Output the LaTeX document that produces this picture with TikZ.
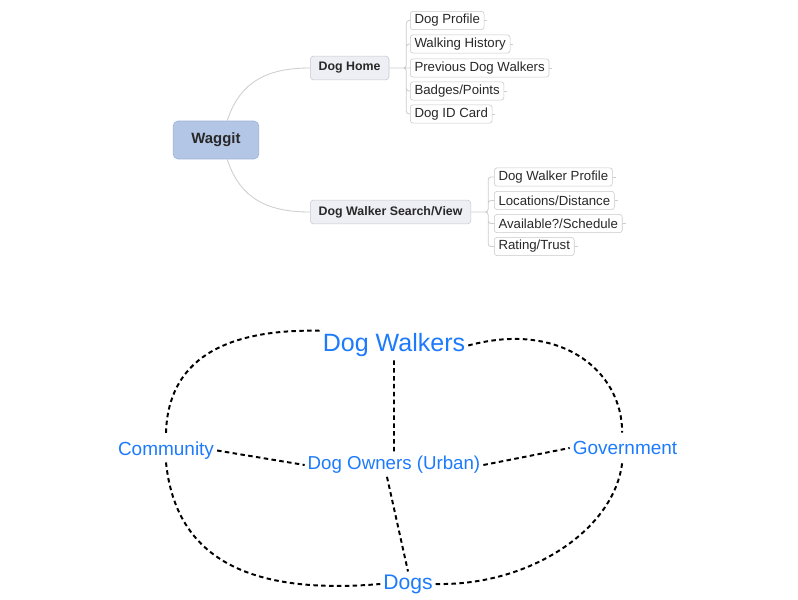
\documentclass[tikz,border=0pt]{standalone}
\usepackage{fontspec}
\setmainfont{Liberation Sans}
\definecolor{waggitblue}{RGB}{179,198,230}
\definecolor{waggitedge}{RGB}{156,178,214}
\definecolor{topicfill}{RGB}{238,238,245}
\definecolor{boxedge}{RGB}{200,200,206}
\definecolor{branchgray}{RGB}{205,205,205}
\definecolor{textgray}{RGB}{40,40,40}
\definecolor{labelblue}{RGB}{28,122,252}

\begin{document}
\begin{tikzpicture}[x=0.025cm,y=-0.025cm,
    central/.style={draw=waggitedge,fill=waggitblue,rounded corners=3.5pt,minimum width=61pt,minimum height=27pt,text=textgray,font=\fontsize{10.6}{12}\selectfont\bfseries},
    topic/.style={draw=boxedge,fill=topicfill,rounded corners=2.5pt,inner xsep=6pt,minimum height=17pt,anchor=west,text=textgray,font=\fontsize{8.8}{10}\selectfont\bfseries},
    subtopic/.style={draw=boxedge,fill=white,rounded corners=2pt,inner xsep=3pt,inner ysep=0pt,minimum height=13pt,anchor=west,text=textgray,font=\fontsize{9.4}{11}\selectfont},
    branch/.style={draw=branchgray,line width=0.6pt},
    actor/.style={text=labelblue,inner sep=2pt},
    link/.style={draw=black,line width=1.4pt,dash pattern=on 3.2pt off 2.4pt}]
    \useasboundingbox (0,0) rectangle (798,600);

    \node [central] (waggit) at (216,140) {Waggit};
    \node [topic] (home)   at (310,68)  {Dog Home};
    \node [topic] (search) at (310,212) {Dog Walker Search/View};

    \node [subtopic] (profile)  at (410,20.5) {Dog Profile};
    \node [subtopic] (history)  at (410,44)   {Walking History};
    \node [subtopic] (previous) at (410,68)   {Previous Dog Walkers};
    \node [subtopic] (badges)   at (410,91)   {Badges/Points};
    \node [subtopic] (idcard)   at (410,114)  {Dog ID Card};

    \node [subtopic] (walkerprofile) at (494,177)   {Dog Walker Profile};
    \node [subtopic] (distance)      at (494,200.5) {Locations/Distance};
    \node [subtopic] (schedule)      at (494,223.5) {Available?/Schedule};
    \node [subtopic] (trust)         at (494,246.5) {Rating/Trust};

    \draw [branch] ([xshift=8pt]waggit.north) .. controls +(13,-41) and +(-40,0) .. (home.west)
                   ([xshift=8pt]waggit.south) .. controls +(13,41) and +(-40,0) .. (search.west);

    \draw [branch,rounded corners=2pt] (home.east) -- ++(17,0) |- (profile.west)
                                       (home.east) -- ++(17,0) |- (history.west)
                                       (home.east) -- (previous.west)
                                       (home.east) -- ++(17,0) |- (badges.west)
                                       (home.east) -- ++(17,0) |- (idcard.west)
                                       (search.east) -- ++(17,0) |- (walkerprofile.west)
                                       (search.east) -- ++(17,0) |- (distance.west)
                                       (search.east) -- ++(17,0) |- (schedule.west)
                                       (search.east) -- ++(17,0) |- (trust.west);

    \draw [branch] (profile.east) -- ++(3,0)  (history.east) -- ++(3,0)
                   (previous.east) -- ++(3,0) (badges.east) -- ++(3,0)
                   (idcard.east) -- ++(3,0)   (walkerprofile.east) -- ++(3,0)
                   (distance.east) -- ++(3,0) (schedule.east) -- ++(3,0)
                   (trust.east) -- ++(3,0);

    \node [actor,font=\fontsize{17.8}{20}\selectfont] (walkers)    at (394,345.5) {Dog Walkers};
    \node [actor,font=\fontsize{13.5}{16}\selectfont] (community)  at (166,450.5) {Community};
    \node [actor,font=\fontsize{13.5}{16}\selectfont] (government) at (625,448)   {Government};
    \node [actor,font=\fontsize{13.3}{15}\selectfont] (owners)     at (394,465)   {Dog Owners (Urban)};
    \node [actor,font=\fontsize{15}{18}\selectfont]   (dogs)       at (408,584)   {Dogs};

    \draw [link] (walkers.south) -- (owners.north)
                 ([xshift=-5pt]owners.south) -- (dogs.north)
                 (community.east) -- (owners.west)
                 (owners.east) -- (government.west);

    \draw [link] ([yshift=4pt]community.north) .. controls +(2,-72) and +(-97,-2) .. (walkers.north west)
                 (walkers.east) .. controls +(92,-25) and +(0,-62) .. ([xshift=-2pt,yshift=4pt]government.north)
                 (community.south) .. controls +(10,97) and +(-130,11) .. (dogs.west)
                 (dogs.east) .. controls +(94,2) and +(-8,67) .. ([xshift=-2pt,yshift=-3.5pt]government.south);
\end{tikzpicture}
\end{document}
